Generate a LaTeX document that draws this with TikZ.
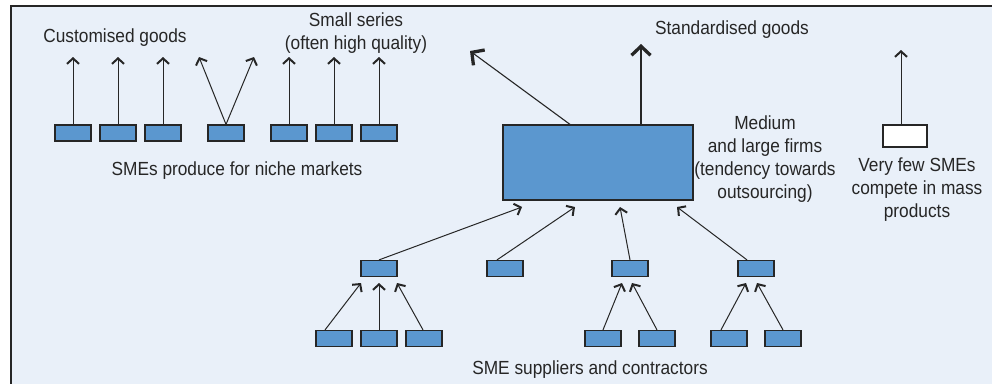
\documentclass[tikz,border=0pt]{standalone}
\usepackage{fontspec}
\setmainfont{Liberation Sans}[FakeStretch=0.91]
\usetikzlibrary{arrows.meta}
\definecolor{bg}{HTML}{E9F0F9}
\definecolor{boxblue}{HTML}{5B97CF}
\definecolor{ink}{HTML}{262626}
\begin{document}
\begin{tikzpicture}[x=1pt,y=-1pt,
  sme/.style={draw=ink, line width=1.2pt, fill=boxblue, minimum width=36pt, minimum height=16pt, inner sep=0pt},
  arr/.style={draw=ink, line width=1pt, -{Straight Barb[length=5.5pt,width=12pt,line width=2pt]}},
  bigarr/.style={draw=ink, line width=1.1pt, -{Straight Barb[length=9pt,width=19pt,line width=3.3pt]}},
  lbl/.style={font=\fontsize{19}{23}\selectfont, text=ink, align=center, inner sep=0pt}]
\useasboundingbox (0,0) rectangle (992,383);
\clip (0,0) rectangle (992,383);
\fill[bg] (11,6) rectangle (1000,400);
\draw[ink, line width=2pt] (1000,6) -- (11,6) -- (11,400);

% niche SMEs
\foreach \i/\x in {1/73,2/118,3/163,4/226,5/289,6/334,7/379}
  \node[sme] (n\i) at (\x,133) {};
\foreach \i/\x in {1/73,2/118,3/163,5/289,6/334,7/379}
  {\coordinate (t\i) at (\x,57);
   \draw[arr] (n\i.north) -- (t\i);}
\coordinate (t4a) at (199,57);
\coordinate (t4b) at (254,57);
\draw[arr] (n4.north) -- (t4a);
\draw[arr] (n4.north) -- (t4b);

\node[lbl] (cg) at (115,38) {Customised goods};
\node[lbl] (ss) at (356,33) {Small series\\(often high quality)};
\node[lbl] (niche) at (237,171) {SMEs produce for niche markets};

% big firm
\node[draw=ink, line width=1.2pt, fill=boxblue, minimum width=190pt, minimum height=75pt, inner sep=0pt] (big) at (598,162.5) {};
\coordinate (sst) at (470,51);
\coordinate (sgt) at (641,44);
\draw[bigarr] ([xshift=-28pt]big.north) -- (sst);
\draw[bigarr] ([xshift=43pt]big.north) -- (sgt);
\node[lbl] (sg) at (732,30) {Standardised goods};
\node[lbl] (mlf) at (765,159) {Medium\\and large firms\\(tendency towards\\outsourcing)};

% mass products
\node[draw=ink, line width=1.2pt, fill=white, minimum width=44pt, minimum height=22pt, inner sep=0pt] (w) at (905,136) {};
\coordinate (wt) at (901,50);
\draw[arr] ([xshift=-4pt]w.north) -- (wt);
\node[lbl] (vf) at (917,190) {Very few SMEs\\compete in mass\\products};

% suppliers level 1
\node[sme] (a1) at (379,268.5) {};
\node[sme] (a2) at (505,268.5) {};
\node[sme] (a3) at (630,268.5) {};
\node[sme] (a4) at (756,268.5) {};
\coordinate (e1) at (522,207);
\coordinate (e2) at (575,207);
\coordinate (e3) at (620,207);
\coordinate (e4) at (677,207);
\draw[arr] (a1.north) -- (e1);
\draw[arr] ([xshift=-8pt]a2.north) -- (e2);
\draw[arr] (a3.north) -- (e3);
\draw[arr] ([xshift=-9pt]a4.north) -- (e4);

% suppliers level 2
\foreach \i/\x in {1/334,2/379,3/424,4/603,5/657,6/729,7/783}
  \node[sme] (b\i) at (\x,338.5) {};
\coordinate (f1) at (361,283);
\coordinate (f2) at (379,283);
\coordinate (f3) at (397,283);
\coordinate (f4) at (622,283);
\coordinate (f5) at (632,283);
\coordinate (f6) at (746,283);
\coordinate (f7) at (757,283);
\draw[arr] ([xshift=-9pt]b1.north) -- (f1);
\draw[arr] (b2.north) -- (f2);
\draw[arr] ([xshift=-1pt]b3.north) -- (f3);
\draw[arr] (b4.north) -- (f4);
\draw[arr] (b5.north) -- (f5);
\draw[arr] ([xshift=-8pt]b6.north) -- (f6);
\draw[arr] (b7.north) -- (f7);
\node[lbl] (sup) at (590,370) {SME suppliers and contractors};
\end{tikzpicture}
\end{document}
